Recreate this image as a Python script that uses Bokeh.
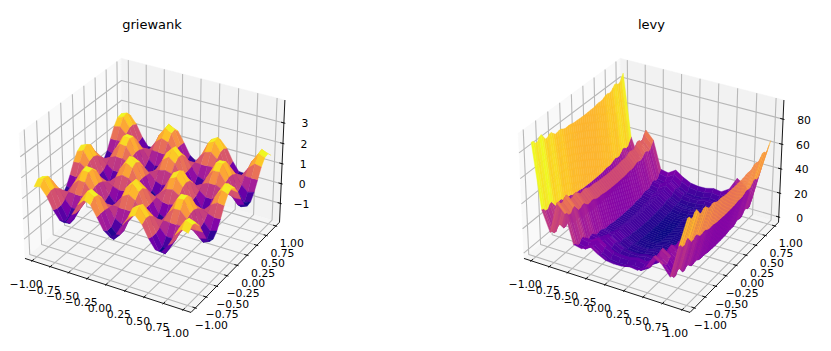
import numpy as np
from bokeh.core.properties import value
from bokeh.embed import file_html
from bokeh.resources import INLINE
from bokeh.layouts import row
from bokeh.models import Range1d
from bokeh.palettes import Plasma256
from bokeh.plotting import figure

TITLES = ["griewank", "levy"]
XY_TICKS = [-1.0, -0.75, -0.5, -0.25, 0.0, 0.25, 0.5, 0.75, 1.0]
XY_LABELS = ["−1.00", "−0.75", "−0.50", "−0.25", "0.00", "0.25", "0.50", "0.75", "1.00"]
GRIEWANK_Z_TICKS = [-1, 0, 1, 2, 3]
GRIEWANK_Z_LABELS = ["−1", "0", "1", "2", "3"]
LEVY_Z_TICKS = [0, 20, 40, 60, 80]
LEVY_Z_LABELS = ["0", "20", "40", "60", "80"]
GRIEWANK_ZLIM = (-1.97, 4.1)
LEVY_ZLIM = (-4.4, 95.0)
XY_LIM = (-1.1, 1.1)

# griewank heights for one quarter of the surface (it mirrors in x and in y; last row/column is the centre line)
griewank_quarter = [
 [1.49,1.58,1.22,0.64,0.23,0.25,0.68,1.25,1.57,1.44,0.94,0.40,0.17],
 [1.72,1.84,1.34,0.55,-0.03,0.00,0.60,1.38,1.84,1.66,0.97,0.21,-0.11],
 [1.67,1.78,1.31,0.56,0.02,0.04,0.61,1.35,1.78,1.61,0.96,0.24,-0.06],
 [1.36,1.42,1.14,0.69,0.36,0.37,0.71,1.16,1.41,1.31,0.92,0.49,0.31],
 [0.89,0.88,0.88,0.87,0.87,0.87,0.87,0.87,0.87,0.86,0.86,0.86,0.86],
 [0.42,0.34,0.62,1.07,1.38,1.37,1.02,0.58,0.32,0.42,0.81,1.23,1.41],
 [0.11,-0.02,0.45,1.19,1.72,1.70,1.12,0.38,-0.05,0.12,0.77,1.48,1.78],
 [0.06,-0.07,0.42,1.21,1.77,1.75,1.14,0.35,-0.11,0.07,0.76,1.51,1.84],
 [0.29,0.19,0.54,1.11,1.52,1.50,1.06,0.49,0.16,0.29,0.79,1.33,1.56],
 [0.71,0.68,0.78,0.93,1.05,1.04,0.91,0.75,0.66,0.70,0.83,0.98,1.05],
 [1.20,1.24,1.04,0.73,0.51,0.52,0.75,1.05,1.23,1.16,0.89,0.59,0.47],
 [1.57,1.68,1.25,0.58,0.09,0.11,0.62,1.29,1.67,1.52,0.93,0.29,0.02],
 [1.71,1.84,1.33,0.52,-0.07,-0.04,0.57,1.37,1.84,1.65,0.95,0.18,-0.15],
]
_half = np.array(griewank_quarter)
_rows = np.hstack([_half, _half[:, -2::-1]])
griewank_z = np.vstack([_rows, _rows[-2::-1]]).tolist()

# levy surface: height read across x and across y; the table is their sum
levy_x_section = [77.0,26.0,9.6,35.1,28.4,5.63,4.36,8.52,4.27,1.07,0.19,0.42,2.05,1.19,5.35,16.1,11.9,4.06,30.4,53.9]
levy_y_section = [10.0,9.50,6.99,6.67,9.37,10.02,7.22,4.35,4.35,5.90,5.94,4.02,2.39,2.46,3.16,2.92,1.81,1.04,1.06,1.23,
                  0.97,0.51,0.26,0.21,0.17,0.08,0.01,0.0,0.02,0.08,0.18,0.22,0.27,0.55,1.01,1.22,1.03,1.08,1.92,3.00,
                  3.10,2.37,2.48,4.23,6.05,5.78,4.23,4.51,7.57,10.13]
levy_z = [[gx + hy for gx in levy_x_section] for hy in levy_y_section]

# view of the 3D box
EL, AZ, DIST = np.radians(30.0), np.radians(-60.0), 10.0
BOX = np.array([4.0, 4.0, 3.0]) / np.sqrt(41.0) * 1.8294640721620434
W = np.array([np.cos(EL) * np.cos(AZ), np.cos(EL) * np.sin(AZ), np.sin(EL)])
U = np.array([-W[1], W[0], 0.0]) / np.hypot(W[0], W[1])
V = np.cross(W, U)
SCALE = 1665.0


def make_projector(zlim, ox, oy):
    lo = np.array([XY_LIM[0], XY_LIM[0], zlim[0]])
    hi = np.array([XY_LIM[1], XY_LIM[1], zlim[1]])

    def proj(x, y, z):
        p = (np.stack([np.asarray(x, float), np.asarray(y, float), np.asarray(z, float)], axis=-1) - lo) / (hi - lo)
        p = (p - 0.5) * BOX
        d = p @ W
        den = DIST - d
        return ox + SCALE * (p @ U) / den, oy - SCALE * (p @ V) / den, d

    return proj


def line(proj, pts):
    a = np.array(pts, float)
    px, py, _ = proj(a[:, 0], a[:, 1], a[:, 2])
    return list(px), list(py)


def panel(title, z_table, z_ticks, z_labels, zlim, ox, oy, x0, x1, width, title_x):
    p = figure(width=width, height=345, output_backend="svg", toolbar_location=None,
               x_range=Range1d(x0, x1), y_range=Range1d(345, 0), min_border=0)
    p.axis.visible = False
    p.grid.visible = False
    p.outline_line_color = None
    proj = make_projector(zlim, ox, oy)
    a, b = XY_LIM
    zl, zh = zlim

    pane_sets = [
        ([(a, a, zl), (a, b, zl), (a, b, zh), (a, a, zh)], "#f9f9f9"),
        ([(a, b, zl), (b, b, zl), (b, b, zh), (a, b, zh)], "#f2f2f2"),
        ([(a, a, zl), (b, a, zl), (b, b, zl), (a, b, zl)], "#f5f5f5"),
    ]
    for pts, col in pane_sets:
        xs, ys = line(proj, pts)
        p.patch(xs, ys, fill_color=col, line_color=col, line_width=0.5)

    gx, gy = [], []
    for t in XY_TICKS:
        xs, ys = line(proj, [(t, a, zl), (t, b, zl), (t, b, zh)])
        gx.append(xs); gy.append(ys)
        xs, ys = line(proj, [(b, t, zl), (a, t, zl), (a, t, zh)])
        gx.append(xs); gy.append(ys)
    for t in z_ticks:
        xs, ys = line(proj, [(a, a, t), (a, b, t), (b, b, t)])
        gx.append(xs); gy.append(ys)
    p.multi_line(gx, gy, line_color="#b8b8b8", line_width=1.1)

    ax, ay = [], []
    for pts in ([(a, a, zl), (b, a, zl)], [(b, a, zl), (b, b, zl)], [(b, b, zl), (b, b, zh)]):
        xs, ys = line(proj, pts)
        ax.append(xs); ay.append(ys)
    d_xy = (b - a) / 12.0
    tx, ty, tt = [], [], []
    for t, lab in zip(XY_TICKS, XY_LABELS):
        xs, ys = line(proj, [(t, a + 0.2 * d_xy, zl), (t, a - 0.1 * d_xy, zl)])
        ax.append(xs); ay.append(ys)
        m, n = line(proj, [(t, a, zl)])
        tx.append(m[0] - 6.0); ty.append(n[0] + 23.5); tt.append(lab)
        xs, ys = line(proj, [(b - 0.2 * d_xy, t, zl), (b + 0.1 * d_xy, t, zl)])
        ax.append(xs); ay.append(ys)
        m, n = line(proj, [(b, t, zl)])
        tx.append(m[0] + 16.0); ty.append(n[0] + 17.5); tt.append(lab)
    for t, lab in zip(z_ticks, z_labels):
        xs, ys = line(proj, [(b - 0.2 * d_xy, b, t), (b + 0.1 * d_xy, b, t)])
        ax.append(xs); ay.append(ys)
        m, n = line(proj, [(b, b, t)])
        tx.append(m[0] + 21.0); ty.append(n[0] + 0.5); tt.append(lab)
    p.multi_line(ax, ay, line_color="black", line_width=0.9)

    z = np.array(z_table, float)
    ny, nx = z.shape
    gxs, gys = np.meshgrid(np.linspace(-1, 1, nx), np.linspace(-1, 1, ny))
    sx, sy, sd = proj(gxs, gys, z)
    means = (z[:-1, :-1] + z[1:, :-1] + z[:-1, 1:] + z[1:, 1:]) / 4.0
    lo, hi = means.min(), means.max()
    depth = (sd[:-1, :-1] + sd[1:, :-1] + sd[:-1, 1:] + sd[1:, 1:]) / 4.0
    order = np.argsort(depth.ravel())
    pxs, pys, cols = [], [], []
    for k in order:
        j, i = np.unravel_index(k, depth.shape)
        pxs.append([sx[j, i], sx[j, i + 1], sx[j + 1, i + 1], sx[j + 1, i]])
        pys.append([sy[j, i], sy[j, i + 1], sy[j + 1, i + 1], sy[j + 1, i]])
        cols.append(Plasma256[int(round((means[j, i] - lo) / (hi - lo) * 255))])
    p.patches(pxs, pys, fill_color=cols, line_color=cols, line_width=0.4)

    p.text(tx, ty, text=tt, text_font=value("DejaVu Sans"), text_font_size="10.8px",
           text_align="center", text_baseline="middle", text_color="black")
    p.text([title_x], [24], text=[title], text_font=value("DejaVu Sans"), text_font_size="13px",
           text_align="center", text_baseline="middle", text_color="black")
    return p


p1 = panel(TITLES[0], griewank_z, GRIEWANK_Z_TICKS, GRIEWANK_Z_LABELS, GRIEWANK_ZLIM, 154, 179, 0, 415, 415, 151.5)
p2 = panel(TITLES[1], levy_z, LEVY_Z_TICKS, LEVY_Z_LABELS, LEVY_ZLIM, 653, 179, 415, 815, 400, 651)
page = row(p1, p2)
open("out.html", "w").write(file_html(page, INLINE))
